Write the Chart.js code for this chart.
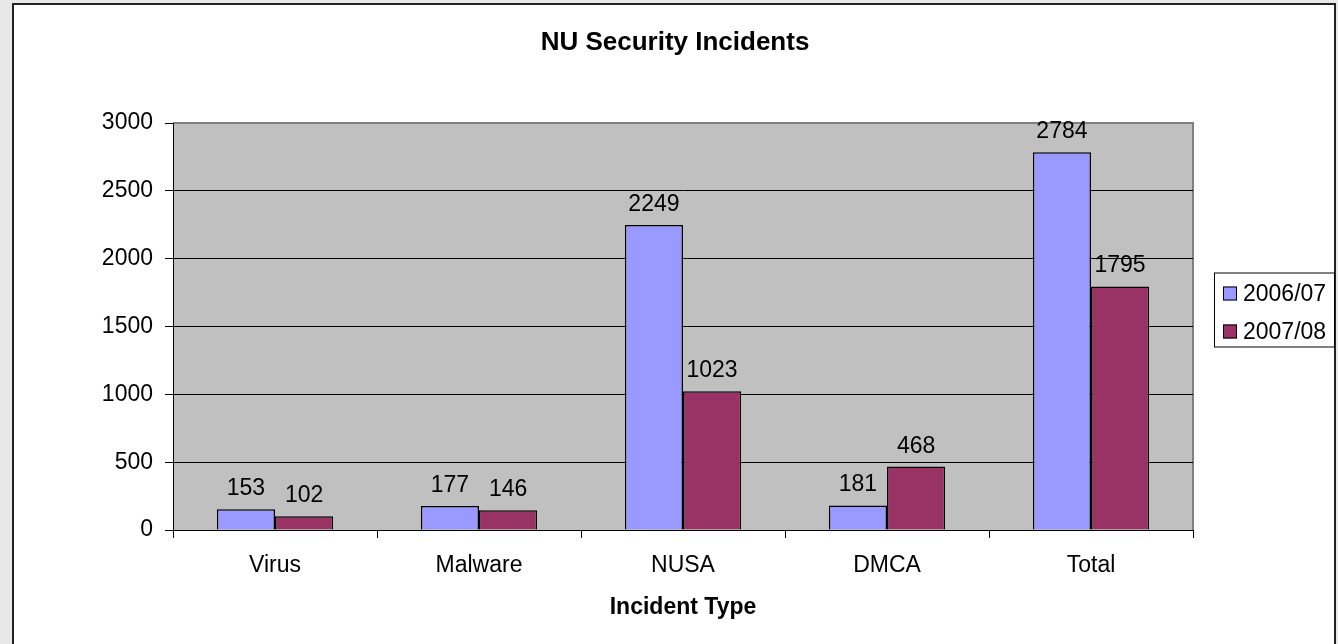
<!DOCTYPE html>
<html>
<head>
<meta charset="utf-8">
<script src="https://cdn.jsdelivr.net/npm/chart.js@4/dist/chart.umd.min.js"></script>
<style>
  html, body { margin: 0; padding: 0; background: #e8e8e8; overflow: hidden; }
  #frame { position: absolute; left: 12px; top: 3px; width: 1320px; height: 700px; background: #fff; border: 2px solid #222; }
  #chart { position: absolute; left: 0; top: 0; }
</style>
</head>
<body>
<div id="frame"></div>
<canvas id="chart" width="1338" height="644"></canvas>
<script>
const categories = ['Virus', 'Malware', 'NUSA', 'DMCA', 'Total'];
const seriesNames = ['2006/07', '2007/08'];
const values0607 = [153, 177, 2249, 181, 2784];
const values0708 = [102, 146, 1023, 468, 1795];
const yTicks = [0, 500, 1000, 1500, 2000, 2500, 3000];
const chartTitle = 'NU Security Incidents';

const FONT = 'Liberation Sans, Arial, sans-serif';
const colors = { s1: '#9999ff', s2: '#993366', plot: '#c0c0c0', plotEdge: '#808080' };

// gray plot area with gray top/right edge, title centred on the frame
const plotBg = {
    id: 'plotBg',
    beforeDraw(chart) {
        const { ctx, chartArea: a } = chart;
        ctx.save();
        ctx.fillStyle = colors.plot;
        ctx.fillRect(a.left, a.top, a.right - a.left, a.bottom - a.top);
        ctx.strokeStyle = colors.plotEdge;
        ctx.lineWidth = 2;
        ctx.beginPath();
        ctx.moveTo(a.left, a.top);
        ctx.lineTo(a.right, a.top);
        ctx.lineTo(a.right, a.bottom);
        ctx.stroke();

        ctx.fillStyle = '#000';
        ctx.font = 'bold 26px ' + FONT;
        ctx.textAlign = 'center';
        ctx.textBaseline = 'middle';
        ctx.fillText(chartTitle, 675, 43);
        ctx.restore();
    }
};

// value labels above each bar
const barLabels = {
    id: 'barLabels',
    afterDatasetsDraw(chart) {
        const ctx = chart.ctx;
        ctx.save();
        ctx.font = '23px ' + FONT;
        ctx.fillStyle = '#000';
        ctx.textAlign = 'center';
        ctx.textBaseline = 'alphabetic';
        chart.data.datasets.forEach((ds, i) => {
            chart.getDatasetMeta(i).data.forEach((bar, j) => {
                ctx.fillText(String(ds.data[j]), bar.x, bar.y - 14);
            });
        });
        ctx.restore();
    }
};

// boxed legend on the right
const boxLegend = {
    id: 'boxLegend',
    afterDraw(chart) {
        const { ctx, chartArea: a } = chart;
        const left = a.right + 21, w = 120, h = 74;
        const top = (a.top + a.bottom) / 2 - 54;
        ctx.save();
        ctx.strokeStyle = '#000';
        ctx.lineWidth = 1;
        ctx.strokeRect(left + 0.5, top + 0.5, w, h);
        ctx.font = '23px ' + FONT;
        ctx.textBaseline = 'middle';
        ctx.textAlign = 'left';
        chart.data.datasets.forEach((ds, i) => {
            const cy = top + 21 + i * 38;
            ctx.fillStyle = ds.backgroundColor;
            ctx.fillRect(left + 9, cy - 7, 14, 14);
            ctx.strokeRect(left + 9.5, cy - 6.5, 13, 13);
            ctx.fillStyle = '#000';
            ctx.fillText(ds.label, left + 29, cy + 1);
        });
        ctx.restore();
    }
};

new Chart(document.getElementById('chart'), {
    type: 'bar',
    data: {
        labels: categories,
        datasets: [
            { label: seriesNames[0], data: values0607, backgroundColor: colors.s1, borderColor: '#000', borderWidth: 1.5 },
            { label: seriesNames[1], data: values0708, backgroundColor: colors.s2, borderColor: '#000', borderWidth: 1.5 }
        ]
    },
    options: {
        responsive: false,
        animation: false,
        devicePixelRatio: 1,
        layout: { padding: { left: 0, top: 123, right: 145, bottom: 0 } },
        datasets: { bar: { categoryPercentage: 0.57, barPercentage: 1.0 } },
        scales: {
            x: {
                afterFit(s) { s.height = 114; },
                grid: { drawOnChartArea: false, drawTicks: true, tickLength: 8, color: '#000', offset: true },
                border: { display: true, color: '#000', width: 1 },
                ticks: { color: '#000', padding: 14, font: { size: 23, family: FONT } },
                title: { display: true, text: 'Incident Type', color: '#000', padding: { top: 23, bottom: 23 }, font: { size: 23, weight: 'bold', family: FONT } }
            },
            y: {
                min: 0, max: 3000,
                afterFit(s) { s.width = 173; },
                afterBuildTicks(s) { s.ticks = yTicks.map(v => ({ value: v })); },
                grid: {
                    color: c => (c.tick && c.tick.value === 3000) ? 'rgba(0,0,0,0)' : '#000',
                    tickColor: '#000', tickLength: 8, lineWidth: 1
                },
                border: { display: true, color: '#000', width: 1 },
                ticks: { color: '#000', padding: 12, font: { size: 23, family: FONT }, callback: v => String(v) }
            }
        },
        plugins: {
            legend: { display: false },
            tooltip: { enabled: false },
            title: { display: false }
        }
    },
    plugins: [plotBg, barLabels, boxLegend]
});
</script>
</body>
</html>
